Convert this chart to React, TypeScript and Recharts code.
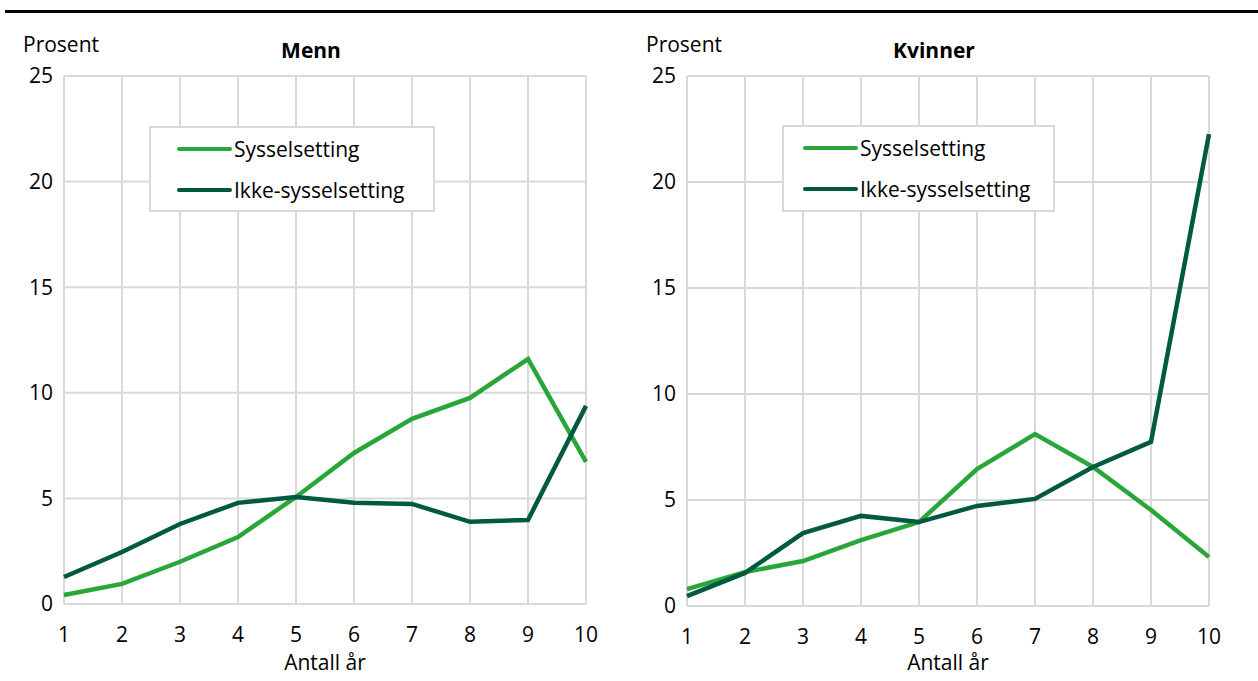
import React from 'react';
import { LineChart, Line, XAxis, YAxis, CartesianGrid, Legend } from 'recharts';

const years = [1, 2, 3, 4, 5, 6, 7, 8, 9, 10];
const yTicks = [0, 5, 10, 15, 20, 25];
const menEmployed = [0.43, 0.95, 2.0, 3.17, 5.07, 7.15, 8.77, 9.76, 11.6, 6.73];
const menNotEmployed = [1.28, 2.46, 3.79, 4.79, 5.07, 4.79, 4.74, 3.89, 3.98, 9.38];
const womenEmployed = [0.8, 1.6, 2.12, 3.11, 3.96, 6.46, 8.11, 6.56, 4.53, 2.31];
const womenNotEmployed = [0.47, 1.56, 3.44, 4.25, 3.96, 4.72, 5.05, 6.56, 7.74, 22.26];
const seriesNames = ['Sysselsetting', 'Ikke-sysselsetting'];
const panelTitles = ['Menn', 'Kvinner'];
const yLabel = 'Prosent';
const xLabel = 'Antall år';

const LIGHT = '#29a639';
const DARK = '#005940';
const GRID = '#d9d9d9';
const FONT = '"Open Sans", sans-serif';
const FS = 21;

const buildData = (a: number[], b: number[]) =>
  years.map((y, i) => ({ year: y, s: a[i], n: b[i] }));

const menData = buildData(menEmployed, menNotEmployed);
const womenData = buildData(womenEmployed, womenNotEmployed);

type PanelProps = {
  left: number;
  title: string;
  data: { year: number; s: number; n: number }[];
  legend: { x: number; y: number; w: number; h: number; pad: number };
  bottom: number;
};

const LegendBox = ({ pad }: { pad: number }) => (
  <div
    style={{
      width: '100%',
      height: '100%',
      boxSizing: 'border-box',
      border: `2px solid ${GRID}`,
      background: '#fff',
      fontFamily: FONT,
      fontSize: FS,
      color: '#000',
      position: 'relative',
    }}
  >
    {[LIGHT, DARK].map((c, i) => (
      <div
        key={i}
        style={{
          position: 'absolute',
          left: pad,
          top: 6 + i * 41,
          height: 30,
          display: 'flex',
          alignItems: 'center',
          whiteSpace: 'nowrap',
        }}
      >
        <span style={{ display: 'inline-block', width: 55, height: 4, background: c, borderRadius: 2 }} />
        <span style={{ marginLeft: 2 }}>{seriesNames[i]}</span>
      </div>
    ))}
  </div>
);

const Panel = ({ left, title, data, legend, bottom }: PanelProps) => (
  <div style={{ position: 'absolute', left, top: 0, width: 620, height: 681 }}>
    <div style={{ position: 'absolute', left: 23, top: 30, fontFamily: FONT, fontSize: FS, color: '#000' }}>
      {yLabel}
    </div>
    <div
      style={{
        position: 'absolute',
        left: 0,
        width: 622,
        top: 36,
        textAlign: 'center',
        fontFamily: FONT,
        fontSize: FS,
        fontWeight: 700,
        color: '#000',
      }}
    >
      {title}
    </div>
    <div
      style={{
        position: 'absolute',
        left: 64,
        width: 522,
        top: 648,
        textAlign: 'center',
        fontFamily: FONT,
        fontSize: FS,
        color: '#000',
      }}
    >
      {xLabel}
    </div>
    <LineChart width={620} height={681} data={data} margin={{ top: 76, right: 34, left: 0, bottom: bottom }}>
      <CartesianGrid stroke={GRID} strokeWidth={2} vertical horizontal />
      <XAxis
        dataKey="year"
        type="number"
        domain={[1, 10]}
        ticks={years}
        axisLine={false}
        tickLine={false}
        tickMargin={17}
        height={40}
        tick={{ fontFamily: FONT, fontSize: FS, fill: '#000' }}
      />
      <YAxis
        type="number"
        domain={[0, 25]}
        ticks={yTicks}
        axisLine={false}
        tickLine={false}
        tickMargin={5}
        width={64}
        tick={{ fontFamily: FONT, fontSize: FS, fill: '#000' }}
      />
      <Legend
        layout="horizontal"
        verticalAlign="middle"
        align="center"
        content={() => <LegendBox pad={legend.pad} />}
        wrapperStyle={{ position: 'absolute', left: legend.x, top: legend.y, width: legend.w, height: legend.h }}
      />
      <Line dataKey="s" name={seriesNames[0]} stroke={LIGHT} strokeWidth={4.5} dot={false} isAnimationActive={false} />
      <Line dataKey="n" name={seriesNames[1]} stroke={DARK} strokeWidth={4.5} dot={false} isAnimationActive={false} />
    </LineChart>
  </div>
);

export default function App() {
  return (
    <div style={{ position: 'absolute', left: 0, top: 0, width: 1258, height: 681, background: '#fff', overflow: 'hidden' }}>
      <div style={{ position: 'absolute', left: 5, top: 10, width: 1253, height: 3, background: '#000' }} />
      <Panel
        left={0}
        title={panelTitles[0]}
        data={menData}
        legend={{ x: 149, y: 126, w: 286, h: 86, pad: 26 }}
        bottom={37}
      />
      <Panel
        left={623}
        title={panelTitles[1]}
        data={womenData}
        legend={{ x: 159, y: 125, w: 273, h: 87, pad: 19 }}
        bottom={35}
      />
    </div>
  );
}
